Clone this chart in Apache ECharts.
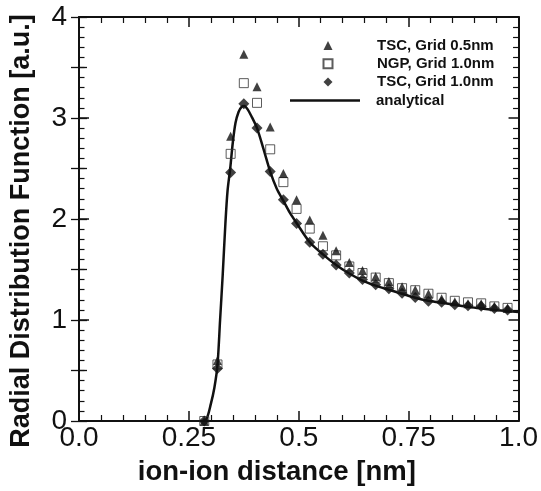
<!DOCTYPE html>
<html>
<head>
<meta charset="utf-8">
<script src="https://cdn.jsdelivr.net/npm/echarts@6/dist/echarts.min.js"></script>
<style>html,body{margin:0;padding:0;background:#fff;}#c{width:541px;height:491px;}</style>
</head>
<body>
<div id="c"></div>
<script>
// ---- data ----
const xPts = [0.285,0.315,0.345,0.375,0.405,0.435,0.465,0.495,0.525,0.555,0.585,0.615,0.645,0.675,0.705,0.735,0.765,0.795,0.825,0.855,0.885,0.915,0.945,0.975];
const tsc05 = [0.0,0.60,2.82,3.63,3.31,2.91,2.45,2.19,1.99,1.84,1.685,1.57,1.49,1.43,1.38,1.33,1.30,1.26,1.21,1.18,1.16,1.16,1.135,1.12];
const ngp10 = [0.0,0.56,2.645,3.345,3.15,2.69,2.365,2.10,1.905,1.73,1.64,1.53,1.465,1.42,1.365,1.315,1.295,1.26,1.22,1.19,1.175,1.165,1.135,1.12];
const tsc10 = [0.0,0.52,2.46,3.14,2.90,2.47,2.19,1.955,1.77,1.65,1.545,1.465,1.40,1.35,1.31,1.265,1.222,1.185,1.175,1.15,1.14,1.135,1.115,1.10];
const anaX = [0.280,0.290,0.300,0.308,0.315,0.321,0.327,0.333,0.338,0.344,0.350,0.356,0.363,0.370,0.376,0.383,0.392,0.405,0.420,0.435,0.450,0.465,0.480,0.495,0.525,0.555,0.585,0.615,0.645,0.675,0.705,0.735,0.765,0.795,0.825,0.855,0.885,0.915,0.945,0.975,1.0];
const anaY = [0.0,0.02,0.17,0.33,0.55,1.0,1.45,1.95,2.28,2.50,2.76,2.95,3.06,3.11,3.12,3.09,3.02,2.90,2.69,2.47,2.30,2.18,2.06,1.96,1.77,1.65,1.545,1.46,1.39,1.34,1.30,1.26,1.22,1.19,1.17,1.15,1.13,1.115,1.10,1.087,1.078];
const xTickLabels = ['0.0','0.25','0.5','0.75','1.0'];
const yTickLabels = ['0','1','2','3','4'];
const seriesNames = ['TSC, Grid 0.5nm','NGP, Grid 1.0nm','TSC, Grid 1.0nm','analytical'];
const xTitle = 'ion-ion distance [nm]';
const yTitle = 'Radial Distribution Function [a.u.]';

const pair = (xs, ys) => xs.map((x, i) => [x, ys[i]]);
const FONT = 'Liberation Sans';
const BLACK = '#111';

function xAx(pos, labels) {
  return {
    type: 'value', position: pos, min: 0, max: 1, interval: 0.25,
    axisLine: {show: true, onZero: false, lineStyle: {color: BLACK, width: 2}},
    axisTick: {show: true, inside: true, length: 10, lineStyle: {color: BLACK, width: 1.5}},
    minorTick: {show: true, splitNumber: 5, length: 6, lineStyle: {color: BLACK, width: 1.2}},
    splitLine: {show: false}, minorSplitLine: {show: false},
    axisLabel: labels ? {show: true, margin: 3, fontSize: 28, fontFamily: FONT, color: BLACK,
      formatter: v => xTickLabels[Math.round(v / 0.25)]} : {show: false},
    name: labels ? xTitle : '', nameLocation: 'middle', nameGap: 37,
    nameTextStyle: {fontSize: 27.5, fontWeight: 'bold', fontFamily: FONT, color: BLACK, padding: [0, 44, 0, 0]}
  };
}
function yAx(pos, labels) {
  return {
    type: 'value', position: pos, min: 0, max: 4, interval: 1,
    axisLine: {show: true, onZero: false, lineStyle: {color: BLACK, width: 2}},
    axisTick: {show: true, inside: true, length: 10, lineStyle: {color: BLACK, width: 1.5}},
    minorTick: {show: true, splitNumber: 10, length: 5.5, lineStyle: {color: BLACK, width: 1.2}},
    splitLine: {show: false}, minorSplitLine: {show: false},
    axisLabel: labels ? {show: true, margin: 12, fontSize: 28, fontFamily: FONT, color: BLACK,
      formatter: v => yTickLabels[Math.round(v)]} : {show: false},
    name: labels ? yTitle : '', nameLocation: 'middle', nameGap: 44,
    nameTextStyle: {fontSize: 27, fontWeight: 'bold', fontFamily: FONT, color: BLACK, padding: [0, 24, 0, 0]}
  };
}
function yHalf(pos) {
  return {
    type: 'value', position: pos, min: 0, max: 4, interval: 0.5,
    axisLine: {show: false}, axisLabel: {show: false}, splitLine: {show: false},
    axisTick: {show: true, inside: true, length: 8, lineStyle: {color: BLACK, width: 1.3}}
  };
}
const legendText = pad => ({fontSize: 15, fontWeight: 'bold', fontFamily: FONT, color: BLACK, lineHeight: 14, padding: [0, 0, 0, pad]});

const chart = echarts.init(document.getElementById('c'), null, {renderer: 'canvas'});
chart.setOption({
  backgroundColor: '#fff',
  animation: false,
  grid: {left: 79, right: 18, top: 17, bottom: 68.5, containLabel: false},
  xAxis: [xAx('bottom', true), xAx('top', false)],
  yAxis: [yAx('left', true), yAx('right', false), yHalf('left'), yHalf('right')],
  legend: [
    {orient: 'vertical', left: 322.5, top: 38, padding: 0, itemWidth: 9, itemHeight: 9, itemGap: 3.3,
      data: seriesNames.slice(0, 3), textStyle: legendText(39.5)},
    {orient: 'vertical', left: 290, top: 93, padding: 0, itemWidth: 70, itemHeight: 2.5,
      data: [{name: seriesNames[3], icon: 'rect'}], textStyle: legendText(11)}
  ],
  series: [
    {name: seriesNames[3], type: 'line', data: pair(anaX, anaY), symbol: 'none', smooth: 0.3,
      lineStyle: {color: BLACK, width: 2.5}, itemStyle: {color: BLACK}, z: 1},
    {name: seriesNames[1], type: 'scatter', data: pair(xPts, ngp10), symbol: 'rect', symbolSize: 9,
      itemStyle: {color: 'rgba(255,255,255,0)', borderColor: '#333', borderWidth: 1}, z: 2},
    {name: seriesNames[0], type: 'scatter', data: pair(xPts, tsc05), symbol: 'triangle', symbolSize: 9,
      itemStyle: {color: BLACK}, z: 3},
    {name: seriesNames[2], type: 'scatter', data: pair(xPts, tsc10), symbol: 'diamond', symbolSize: 11,
      itemStyle: {color: BLACK}, z: 4}
  ]
});
</script>
</body>
</html>
